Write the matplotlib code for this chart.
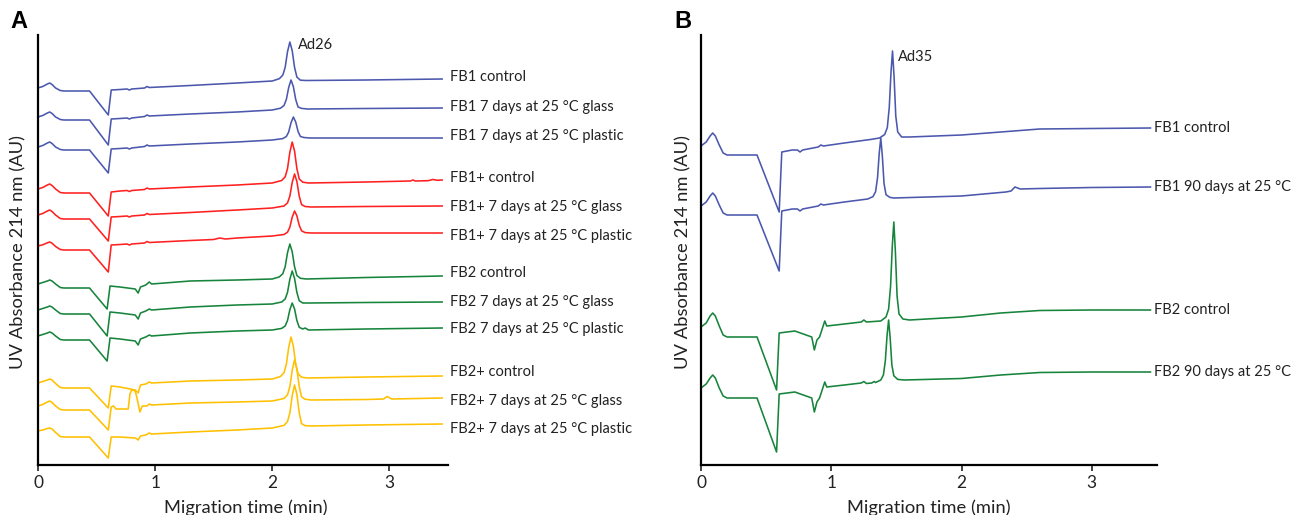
import matplotlib
matplotlib.use("Agg")
import matplotlib.pyplot as plt

plt.rcParams['font.family'] = ['Lato', 'DejaVu Sans']

# colours
blue = '#4b58ad'
red = '#ff2020'
green = '#17843c'
yellow = '#ffc000'

# ---------------- panel A data (time in min, signal relative to trace start) ----------------
t_b1 = [0, 0.04, 0.08, 0.10, 0.12, 0.15, 0.19, 0.22, 0.44, 0.60, 0.625, 0.70, 0.76, 0.78, 0.80, 0.91, 0.93, 0.95,
        1.30, 1.70, 2.00, 2.06, 2.09, 2.11, 2.13, 2.15, 2.17, 2.19, 2.21, 2.24, 2.29, 2.80, 3.45]
y_b1 = [0, 1.5, 4, 5, 3.5, 0, -2.5, -3, -3, -27, -2, -1.5, -1, -2, -1, 0, 1.5, 0.5,
        2.5, 5, 7, 9.3, 12.9, 20.7, 36.3, 46, 37.4, 20.7, 10.9, 7.8, 7.5, 8, 9]

t_b2 = [0, 0.04, 0.08, 0.10, 0.12, 0.15, 0.19, 0.22, 0.44, 0.60, 0.625, 0.70, 0.76, 0.78, 0.80, 0.91, 0.93, 0.95,
        1.30, 1.70, 2.00, 2.07, 2.10, 2.12, 2.14, 2.16, 2.18, 2.20, 2.22, 2.25, 2.30, 2.80, 3.45]
y_b2 = [0, 1.5, 4, 5, 3.5, 0, -2.5, -3, -3, -28, -2, -1.5, -1, -2, -1, 0.5, 2, 1,
        3, 5, 7, 8.8, 11.5, 17.5, 29.5, 37, 30.4, 17.5, 10, 8.6, 8, 8.5, 9]

t_b3 = [0, 0.04, 0.08, 0.10, 0.12, 0.15, 0.19, 0.22, 0.44, 0.60, 0.625, 0.70, 0.76, 0.78, 0.80, 0.91, 0.93, 0.95,
        1.30, 1.70, 2.00, 2.09, 2.12, 2.14, 2.16, 2.18, 2.20, 2.22, 2.24, 2.27, 2.32, 2.80, 3.45]
y_b3 = [0, 1.5, 4, 5, 3.5, 0, -2.5, -3, -3, -26, -2, -1.5, -1, -2, -1, 0.5, 2, 1,
        3, 5, 7, 8.4, 10.5, 15, 24.3, 30, 25, 15.5, 10.5, 9.5, 9, 9, 9]

t_r1 = [0, 0.04, 0.08, 0.10, 0.12, 0.15, 0.19, 0.22, 0.44, 0.60, 0.625, 0.70, 0.76, 0.78, 0.80, 0.91, 0.93, 0.95,
        1.30, 1.70, 2.00, 2.08, 2.11, 2.13, 2.15, 2.17, 2.19, 2.21, 2.23, 2.26, 2.31, 2.80, 3.18, 3.20, 3.22,
        3.33, 3.37, 3.41, 3.45]
y_r1 = [0, 1.5, 4, 5, 3.5, 0, -3.5, -4, -4, -27, -3, -2, -1.5, -2.5, -1.5, -0.5, 1, 0,
        2, 4, 6, 8.5, 12.2, 20.4, 36.8, 47, 38, 20.4, 10.1, 6.8, 6, 7, 8, 9, 8,
        8.3, 9.5, 8.7, 9]

t_r2 = [0, 0.04, 0.08, 0.10, 0.12, 0.15, 0.19, 0.22, 0.44, 0.60, 0.625, 0.70, 0.76, 0.78, 0.80, 0.91, 0.93, 0.95,
        1.30, 1.70, 2.00, 2.10, 2.13, 2.15, 2.17, 2.19, 2.21, 2.23, 2.25, 2.28, 2.33, 2.80, 3.45]
y_r2 = [0, 1.5, 4, 5, 3.5, 0, -3.5, -4, -4, -26, -2, -1.5, -1, -2, -1, 0, 1.5, 0.5,
        2.5, 5, 7, 9, 12.1, 18.9, 32.5, 41, 33.5, 18.9, 10.4, 8.5, 8, 8.5, 9]

t_r3 = [0, 0.04, 0.08, 0.10, 0.12, 0.15, 0.19, 0.22, 0.44, 0.60, 0.625, 0.70, 0.76, 0.78, 0.80, 0.91, 0.93, 0.95,
        1.30, 1.50, 1.55, 1.60, 1.70, 2.00, 2.10, 2.13, 2.15, 2.17, 2.19, 2.21, 2.23, 2.25, 2.28, 2.33, 2.80, 3.45]
y_r3 = [0, 1.2, 3.2, 4, 2.8, -0.5, -3.5, -4, -4, -26, 1, 1.5, 2, 1, 2, 3, 4.5, 3.5,
        5.5, 6.5, 8, 7, 8, 10, 11.5, 13.8, 18.8, 28.8, 35, 30.2, 20.7, 15.2, 13.4, 13, 13, 13]

t_g1 = [0, 0.04, 0.08, 0.10, 0.12, 0.15, 0.19, 0.22, 0.44, 0.59, 0.615, 0.70, 0.83, 0.855, 0.875, 0.92, 0.95, 0.97,
        1.30, 1.70, 2.00, 2.06, 2.09, 2.11, 2.13, 2.15, 2.17, 2.19, 2.21, 2.24, 2.29, 2.80, 3.45]
y_g1 = [0, 1.5, 3, 4, 3, 0, -3.5, -4, -4, -25, -2, -3, -5, -9, -3, -1, 2, 0,
        3, 4, 5, 7.1, 10.3, 17.3, 31.3, 40, 32.3, 17.3, 8.5, 5.7, 5, 6.5, 8]

t_g2 = [0, 0.04, 0.08, 0.10, 0.12, 0.15, 0.19, 0.22, 0.44, 0.59, 0.615, 0.70, 0.83, 0.855, 0.875, 0.92, 0.95, 0.97,
        1.30, 1.70, 2.00, 2.08, 2.11, 2.13, 2.15, 2.17, 2.19, 2.21, 2.23, 2.26, 2.31, 2.80, 3.45]
y_g2 = [0, 1.5, 3, 4, 3, 0, -3.5, -4, -4, -26, -2, -3, -5, -9, -3, -1, 1, 0,
        3, 5, 6, 8, 11, 17.6, 30.8, 39, 31.7, 17.6, 9.3, 7, 7, 7.5, 8]

t_g3 = [0, 0.04, 0.08, 0.10, 0.12, 0.15, 0.19, 0.22, 0.44, 0.59, 0.615, 0.70, 0.83, 0.855, 0.875, 0.92, 0.95, 0.97,
        1.30, 1.70, 2.00, 2.08, 2.11, 2.13, 2.15, 2.17, 2.19, 2.21, 2.23, 2.26, 2.28, 2.31, 2.80, 3.45]
y_g3 = [0, 1.5, 3, 4, 3, 0, -3.5, -4, -4, -25, -2, -3, -5, -9, -3, -1, 1, 0,
        3, 5, 6, 7.6, 10, 15.5, 26.3, 33, 27.1, 15.5, 8.7, 7, 8, 6, 7, 8]

t_y1 = [0, 0.04, 0.08, 0.10, 0.12, 0.15, 0.19, 0.22, 0.44, 0.60, 0.625, 0.70, 0.83, 0.855, 0.875, 0.92, 0.95, 0.97,
        1.30, 1.70, 2.00, 2.07, 2.10, 2.12, 2.14, 2.16, 2.18, 2.20, 2.22, 2.25, 2.30, 2.80, 3.45]
y_y1 = [0, 1.5, 3, 4, 3, -0.5, -4.5, -5, -5, -25, -3, -4, -7, -10, -2, -1, 1, 0,
        2, 3, 4, 6.5, 10.3, 18.7, 35.5, 46, 36.8, 18.7, 9.2, 5.8, 5, 6, 7]

t_y2 = [0, 0.04, 0.08, 0.10, 0.12, 0.15, 0.19, 0.22, 0.44, 0.60, 0.625, 0.645, 0.665, 0.70, 0.77, 0.785, 0.80, 0.83,
        0.845, 0.87, 0.89, 0.93, 0.95, 0.97, 1.30, 1.70, 2.00, 2.10, 2.13, 2.15, 2.17, 2.19, 2.21, 2.23, 2.25,
        2.28, 2.33, 2.80, 2.95, 2.98, 3.02, 3.45]
y_y2 = [0, 1.5, 4, 5, 3.5, 0, -3.5, -4, -4, -24, -1, 0, -3, -3, -3, 12, 16, 15,
        8, -6, 0, 0, 2, 1, 3, 4, 5, 7.5, 11.2, 19.4, 35.8, 46, 37, 19.4, 9.1,
        6.8, 6, 6.5, 7, 9.5, 7, 8]

t_y3 = [0, 0.04, 0.08, 0.10, 0.12, 0.15, 0.19, 0.22, 0.44, 0.60, 0.625, 0.70, 0.83, 0.855, 0.875, 0.92, 0.95, 0.97,
        1.30, 1.70, 2.00, 2.10, 2.13, 2.15, 2.17, 2.19, 2.21, 2.23, 2.25, 2.28, 2.33, 2.80, 3.45]
y_y3 = [0, 1, 2.5, 3, 2, -1.5, -5.5, -6, -6, -27, -6, -6, -7, -9, -5, -4, -2, -3,
        -1, 1, 3, 5.6, 9.5, 18, 35.3, 46, 36.5, 18, 7.3, 5.4, 5, 6, 7]

a_times = [t_b1, t_b2, t_b3, t_r1, t_r2, t_r3, t_g1, t_g2, t_g3, t_y1, t_y2, t_y3]
a_signals = [y_b1, y_b2, y_b3, y_r1, y_r2, y_r3, y_g1, y_g2, y_g3, y_y1, y_y2, y_y3]
a_offsets = [377, 348, 318, 276, 250, 219, 181, 155, 129, 82, 59, 34]
a_colors = [blue] * 3 + [red] * 3 + [green] * 3 + [yellow] * 3
a_labels = ['FB1 control', 'FB1 7 days at 25 °C glass', 'FB1 7 days at 25 °C plastic',
            'FB1+ control', 'FB1+ 7 days at 25 °C glass', 'FB1+ 7 days at 25 °C plastic',
            'FB2 control', 'FB2 7 days at 25 °C glass', 'FB2 7 days at 25 °C plastic',
            'FB2+ control', 'FB2+ 7 days at 25 °C glass', 'FB2+ 7 days at 25 °C plastic']
a_label_y = [388, 358, 329, 287, 258, 229, 192, 163, 136, 93, 64, 36]

# ---------------- panel B data ----------------
t_bb1 = [0, 0.04, 0.07, 0.09, 0.11, 0.14, 0.17, 0.20, 0.43, 0.60, 0.62, 0.70, 0.74, 0.76, 0.78, 0.90, 0.92, 0.94,
         1.10, 1.30, 1.37, 1.41, 1.43, 1.445, 1.458, 1.47, 1.482, 1.495, 1.51, 1.54, 1.60, 2.0, 2.3, 2.6, 3.0, 3.45]
y_bb1 = [0, 4, 10, 13, 10, 1, -7, -9, -9, -66, -6, -4, -4, -6, -4, -1, 1, 0,
         3, 6.5, 8, 11.5, 18.4, 38.5, 73, 95, 69, 30, 14, 9, 9, 11, 14, 17, 17.5, 18]

t_bb2 = [0, 0.04, 0.07, 0.09, 0.11, 0.14, 0.17, 0.20, 0.43, 0.60, 0.62, 0.70, 0.74, 0.76, 0.78, 0.90, 0.92, 0.94,
         1.10, 1.28, 1.32, 1.34, 1.355, 1.368, 1.38, 1.392, 1.405, 1.42, 1.45, 1.48, 2.0, 2.34, 2.38, 2.41, 2.45,
         2.6, 3.0, 3.45]
y_bb2 = [0, 4, 10, 13, 10, 1, -7, -9, -9, -65, -5, -3, -3, -5, -3, 0, 2, 1,
         4, 7, 9.4, 14.3, 28.4, 52.8, 68, 49.7, 22.3, 11.3, 8.6, 8, 10, 14, 15, 19, 17,
         17.5, 18.5, 19]

t_gb1 = [0, 0.04, 0.07, 0.09, 0.11, 0.14, 0.17, 0.20, 0.43, 0.58, 0.60, 0.72, 0.85, 0.87, 0.89, 0.91, 0.95, 0.965,
         1.10, 1.23, 1.25, 1.27, 1.38, 1.42, 1.44, 1.455, 1.468, 1.48, 1.492, 1.505, 1.52, 1.55, 1.60, 2.0, 2.3,
         2.6, 3.0, 3.45]
y_gb1 = [0, 4, 11, 14, 11, 1, -8, -10, -10, -63, -6, -4, -10, -23, -13, -10, 6, 1,
         3, 5, 7, 5, 6, 10, 17.9, 40.7, 80.3, 105, 75.3, 30.8, 12.9, 8, 7, 10, 14,
         16.5, 17, 17]

t_gb2 = [0, 0.04, 0.07, 0.09, 0.11, 0.14, 0.17, 0.20, 0.43, 0.58, 0.60, 0.72, 0.85, 0.87, 0.89, 0.91, 0.95, 0.965,
         1.10, 1.23, 1.25, 1.27, 1.31, 1.33, 1.34, 1.38, 1.40, 1.415, 1.428, 1.44, 1.452, 1.465, 1.48, 1.51, 1.56,
         2.0, 2.3, 2.6, 3.0, 3.45]
y_gb2 = [0, 4, 10, 13, 10, 0, -8, -10, -10, -64, -6, -4, -10, -24, -14, -10, 6, 1,
         3, 5, 6.5, 4.5, 5, 6.5, 5.5, 8, 13, 27.4, 52.4, 68, 50, 23, 12.2, 8.6, 8,
         9.5, 13, 15.5, 16, 16]

b_times = [t_bb1, t_bb2, t_gb1, t_gb2]
b_signals = [y_bb1, y_bb2, y_gb1, y_gb2]
b_offsets = [319, 259, 138, 77]
b_colors = [blue, blue, green, green]
b_labels = ['FB1 control', 'FB1 90 days at 25 °C', 'FB2 control', 'FB2 90 days at 25 °C']
b_label_y = [337, 278, 155, 93]

# ---------------- figure ----------------
fig = plt.figure(figsize=(12.92, 5.15), dpi=100)
axA = fig.add_axes([38 / 1292, 50 / 515, 410 / 1292, 430 / 515])
axB = fig.add_axes([701 / 1292, 50 / 515, 456 / 1292, 430 / 515])


def style(ax):
    ax.set_xlim(0, 3.5)
    ax.set_ylim(0, 430)
    ax.spines['top'].set_visible(False)
    ax.spines['right'].set_visible(False)
    ax.spines['left'].set_linewidth(1.6)
    ax.spines['bottom'].set_linewidth(1.6)
    ax.set_yticks([])
    ax.set_xticks([0, 1, 2, 3])
    ax.tick_params(axis='x', length=4, width=1.2, labelsize=12.5, colors='#222222', pad=3)
    ax.set_xlabel('Migration time (min)', fontsize=13.2, color='#222222')
    ax.set_ylabel('UV Absorbance 214 nm (AU)', fontsize=13.2, color='#222222')


style(axA)
style(axB)
axA.xaxis.set_label_coords(0.507, -0.08)
axB.xaxis.set_label_coords(0.5, -0.08)
axA.yaxis.set_label_coords(-0.028, 0.495)
axB.yaxis.set_label_coords(-0.02, 0.495)

for t, y, off, c in zip(a_times, a_signals, a_offsets, a_colors):
    axA.plot(t, [v + off for v in y], color=c, lw=1.15)
for lab, ly in zip(a_labels, a_label_y):
    axA.text(3.52, ly, lab, fontsize=10.5, va='center', ha='left', color='#222222', clip_on=False)
axA.text(2.22, 420, 'Ad26', fontsize=10.5, va='center', ha='left', color='#222222')

for t, y, off, c in zip(b_times, b_signals, b_offsets, b_colors):
    axB.plot(t, [v + off for v in y], color=c, lw=1.15)
for lab, ly in zip(b_labels, b_label_y):
    axB.text(3.48, ly, lab, fontsize=10.5, va='center', ha='left', color='#222222', clip_on=False)
axB.text(1.51, 408, 'Ad35', fontsize=10.5, va='center', ha='left', color='#222222')

fig.text(10 / 1292, 1 - 22 / 515, 'A', fontsize=17, fontweight='bold', family='Liberation Sans', va='center')
fig.text(674 / 1292, 1 - 22 / 515, 'B', fontsize=17, fontweight='bold', family='Liberation Sans', va='center')

fig.savefig('out.png', dpi=100)
